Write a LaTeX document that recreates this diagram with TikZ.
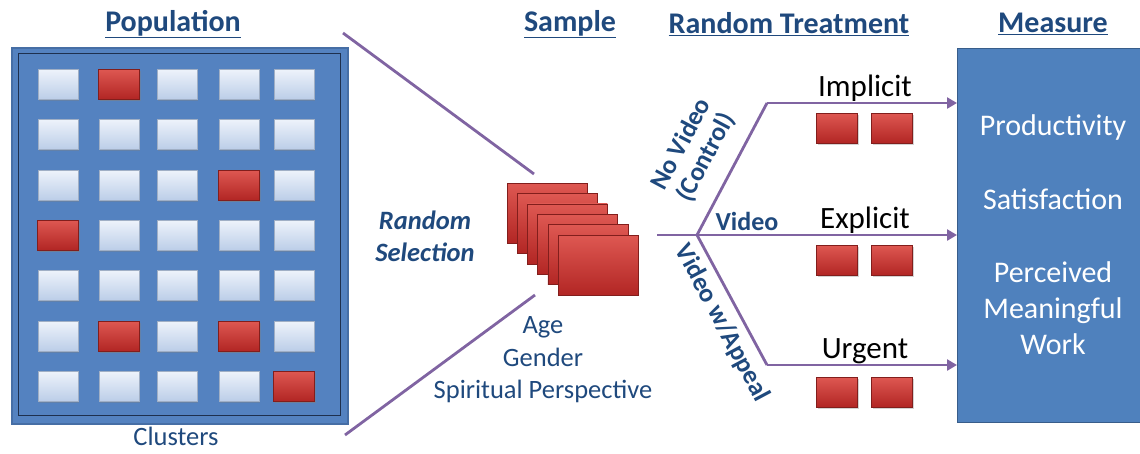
\documentclass[tikz,border=0pt]{standalone}
\usepackage{fontspec}
\setmainfont{Carlito}
\usetikzlibrary{arrows.meta,shadows}
\definecolor{hdblue}{RGB}{31,73,125}
\definecolor{popfill}{RGB}{84,130,192}
\definecolor{popedge}{RGB}{70,110,165}
\definecolor{popdark}{RGB}{30,48,78}
\definecolor{measfill}{RGB}{79,129,189}
\definecolor{measedge}{RGB}{56,93,138}
\definecolor{purp}{RGB}{128,100,162}
\definecolor{redtop}{RGB}{222,88,82}
\definecolor{redbot}{RGB}{178,38,36}
\definecolor{rededge}{RGB}{130,30,28}
\definecolor{celltop}{RGB}{238,243,251}
\definecolor{cellbot}{RGB}{188,206,232}
\tikzset{
  heading/.style={font=\bfseries\fontsize{30}{33}\selectfont, text=hdblue},
  bluetext/.style={font=\fontsize{26.5}{30}\selectfont, text=hdblue, align=center},
  labeltext/.style={font=\bfseries\fontsize{26}{28}\selectfont, text=hdblue, align=center},
  blacktext/.style={font=\fontsize{31}{33}\selectfont, text=black},
  whitetext/.style={font=\fontsize{30}{33}\selectfont, text=white, align=center},
  cell/.style={minimum width=40, minimum height=30, inner sep=0pt,
    top color=celltop, bottom color=cellbot, draw=cellbot!85!black, line width=0.4pt,
    drop shadow={shadow xshift=1pt, shadow yshift=-2pt, opacity=0.35}},
  redcell/.style={minimum width=41, minimum height=30, inner sep=0pt,
    top color=redtop, bottom color=redbot, draw=rededge, line width=0.4pt,
    drop shadow={shadow xshift=1pt, shadow yshift=-2pt, opacity=0.35}},
  card/.style={minimum width=80, minimum height=60, inner sep=0pt,
    top color=redtop, bottom color=redbot, draw=rededge, line width=0.4pt},
  flow/.style={draw=purp, line width=2.8pt},
  flowarrow/.style={flow, -{Triangle[length=10pt, width=11pt]}},
}
\begin{document}
\begin{tikzpicture}[x=1pt, y=-1pt]
\useasboundingbox (0,0) rectangle (1140,453);

% headings
\node[heading] (hpop) at (173,24) {\underline{Population}};
\node[heading] (hsam) at (570,24) {\underline{Sample}};
\node[heading] (htre) at (789,24) {\underline{Random Treatment}};
\node[heading] (hmea) at (1053,24) {\underline{Measure}};

% population frame
\node[draw=popedge, fill=popfill, line width=1.5pt, minimum width=336, minimum height=376,
      inner sep=0pt, anchor=north west] (pop) at (11,47) {};
\draw[popdark, line width=1pt] (18,53) rectangle (340,415);

% cluster grid
\foreach \r/\y in {1/84,2/134,3/185,4/235,5/285,6/336,7/386}{
  \foreach \c/\x in {1/58,2/119,3/177,4/239,5/294}{
    \node[cell] (c\r\c) at (\x,\y) {};
  }
}
\foreach \r/\c/\x/\y in {1/2/119/84, 3/4/239/185, 4/1/58/235, 6/2/119/336, 6/4/239/336, 7/5/294/386}{
  \node[redcell] (r\r\c) at (\x,\y) {};
}
\node[bluetext, inner sep=1pt] (clus) at (176,436) {Clusters};

% sample stack
\foreach \i in {0,...,5}{
  \node[card] (s\i) at ({547+10.2*\i},{213+10.4*\i}) {};
}
\coordinate (seltop) at (534,174);
\coordinate (selbot) at (535,295);
\coordinate (poptop) at (343,33);
\coordinate (popbot) at (345,435);
\draw[flow] (poptop) -- (seltop);
\draw[flow] (popbot) -- (selbot);
\node[labeltext, font=\bfseries\itshape\fontsize{26.5}{32}\selectfont] (rsel) at (425,236) {Random\\Selection};
\node[bluetext, font=\fontsize{26.5}{32.5}\selectfont] (attr) at (543,360) {Age\\Gender\\Spiritual Perspective};

% measure box
\node[draw=measedge, fill=measfill, line width=1.2pt, minimum width=190, minimum height=374,
      inner sep=0pt, anchor=north west] (meas) at (957,48) {};
\node[whitetext] (m1) at (1053,127) {Productivity};
\node[whitetext] (m2) at (1053,199) {Satisfaction};
\node[whitetext, font=\fontsize{30}{36}\selectfont] (m3) at (1053,308) {Perceived\\Meaningful\\Work};

% treatment branches
\coordinate (stem) at (657,235);
\coordinate (fork) at (697,235);
\coordinate (up) at (767,103);
\coordinate (dn) at (767,365);
\draw[flow, line join=round] (stem) -- (fork);
\draw[flow, line join=round] (fork) -- (up);
\draw[flow, line join=round] (fork) -- (dn);
\draw[flowarrow] (fork) -- (fork -| meas.west);
\draw[flowarrow] (up) -- (up -| meas.west);
\draw[flowarrow] (dn) -- (dn -| meas.west);

\node[labeltext, rotate=62, inner sep=1pt] (nov) at (694,151) {No Video\\(Control)};
\node[labeltext, inner sep=1pt] (vid) at (747,221) {Video};
\node[labeltext, rotate=-62, inner sep=1pt] (vwa) at (722,323) {Video w/Appeal};

\node[blacktext, inner sep=1pt] (imp) at (865,88) {Implicit};
\node[blacktext, inner sep=1pt] (exp) at (865,220) {Explicit};
\node[blacktext, inner sep=1pt] (urg) at (865,351) {Urgent};

\foreach \n/\y in {a/128,b/260,c/392}{
  \node[redcell] (t\n1) at (837,\y) {};
  \node[redcell] (t\n2) at (892,\y) {};
}
\end{tikzpicture}
\end{document}
